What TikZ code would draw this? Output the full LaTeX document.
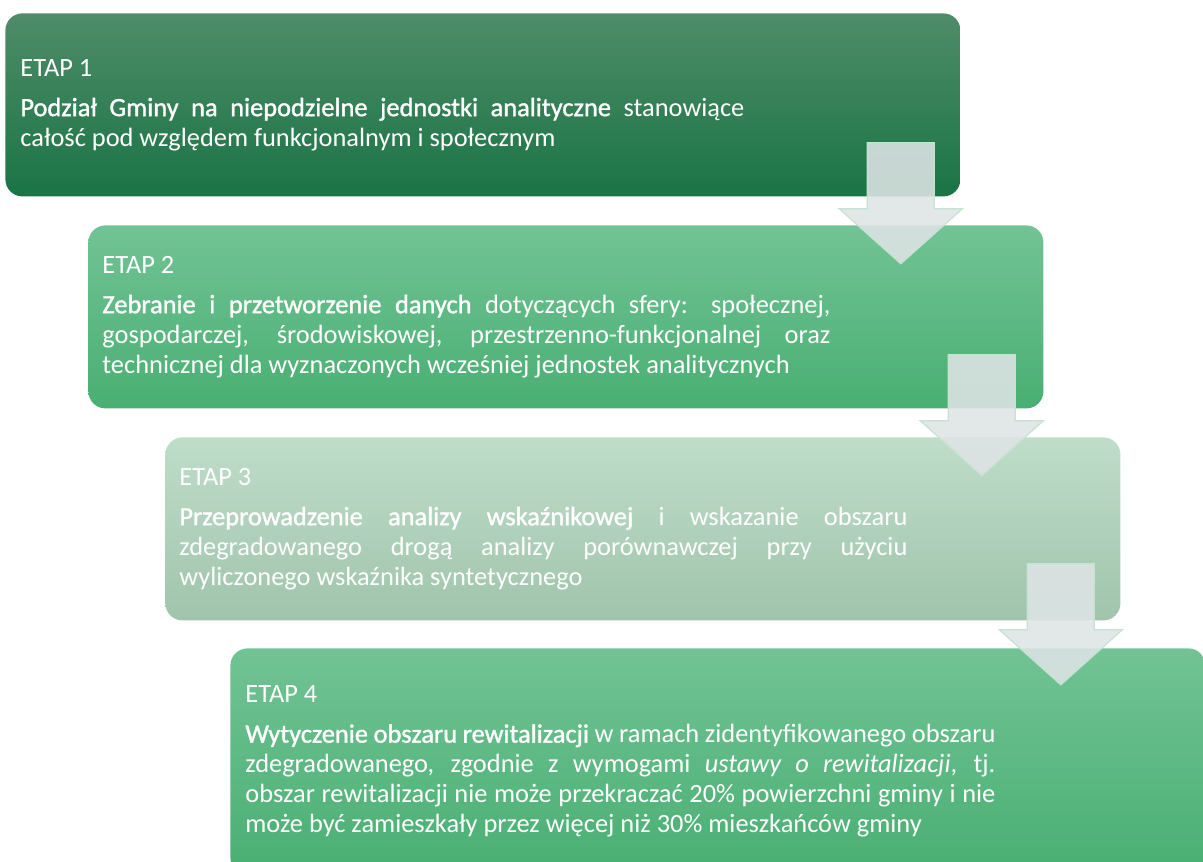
\documentclass[tikz,border=0pt]{standalone}
\usepackage{fontspec}
\setmainfont{Carlito}
\newfontfamily\stagebold[FakeBold=1.3]{Carlito}
\usepackage{xcolor}
\usepackage{tikz}
\definecolor{darktop}{RGB}{79,140,105}
\definecolor{darkbot}{RGB}{26,116,69}
\definecolor{midtop}{RGB}{114,195,149}
\definecolor{midbot}{RGB}{73,175,114}
\definecolor{palebot}{RGB}{160,196,172}
\definecolor{paletop}{RGB}{191,221,201}
\definecolor{flowfill}{RGB}{222,228,229}
\definecolor{flowline}{RGB}{198,226,208}
\newcommand{\stagefont}{\fontsize{13.2}{15}\selectfont
    \hyphenpenalty=10000\relax\exhyphenpenalty=10000\relax\tolerance=9999\relax}
\newcommand{\hl}[1]{{\stagebold #1}}
\tikzset{
    stage/.style={rounded corners=8.5pt, anchor=north west, inner sep=0pt,
        minimum width=477.5pt, minimum height=91.5pt},
    stagetext/.style={anchor=west, inner sep=0pt, text=white, align=justify,
        font=\stagefont},
    flow/.pic={\draw[fill=flowfill, fill opacity=0.88, draw=flowline, line width=0.6pt]
        (-33.5,0) -- (33.5,0) -- (33.5,66) -- (61.5,66) -- (0,121)
        -- (-61.5,66) -- (-33.5,66) -- cycle;},
}
\begin{document}
\begin{tikzpicture}[x=0.5pt, y=-0.5pt]
    \useasboundingbox (0,0) rectangle (1203,861);
    \clip (0,0) rectangle (1203,861);
    \node[stage, top color=darktop, bottom color=darkbot] (e1) at (5,13) {};
    \node[stage, top color=midtop, bottom color=midbot] (e2) at (88,225) {};
    \node[stage, top color=paletop, bottom color=palebot] (e3) at (165,437) {};
    \node[stage, top color=midtop, bottom color=midbot,
          minimum width=487.5pt, minimum height=113pt] (e4) at (230,648) {};
    \node[stagetext, text width=362pt] (t1) at ([xshift=7.5pt]e1.west)
        {ETAP 1\\[5pt]\hl{Podział Gminy na niepodzielne jednostki analityczne} stanowiące\linebreak
         całość pod względem funkcjonalnym i społecznym};
    \node[stagetext, text width=364pt] (t2) at ([xshift=7pt]e2.west)
        {ETAP 2\\[5pt]\hl{Zebranie i przetworzenie danych} dotyczących sfery: społecznej,\linebreak
         gospodarczej, środowiskowej, przestrzenno-funkcjonalnej oraz\linebreak
         technicznej dla wyznaczonych wcześniej jednostek analitycznych};
    \node[stagetext, text width=364pt] (t3) at ([xshift=7pt]e3.west)
        {ETAP 3\\[5pt]\hl{Przeprowadzenie analizy wskaźnikowej} i wskazanie obszaru\linebreak
         zdegradowanego drogą analizy porównawczej przy użyciu\linebreak
         wyliczonego wskaźnika syntetycznego};
    \node[stagetext, text width=375pt] (t4) at ([xshift=7.5pt]e4.west)
        {ETAP 4\\[5pt]\hl{Wytyczenie obszaru rewitalizacji} w ramach zidentyfikowanego obszaru\linebreak
         zdegradowanego, zgodnie z wymogami \textit{ustawy o rewitalizacji}, tj.\linebreak
         obszar rewitalizacji nie może przekraczać 20\% powierzchni gminy i nie\linebreak
         może być zamieszkały przez więcej niż 30\% mieszkańców gminy};
    \pic at ([shift={(-60,-54)}]e1.south east) {flow};
    \pic at ([shift={(-62,-54)}]e2.south east) {flow};
    \pic at ([shift={(-60,-57)}]e3.south east) {flow};
\end{tikzpicture}
\end{document}
